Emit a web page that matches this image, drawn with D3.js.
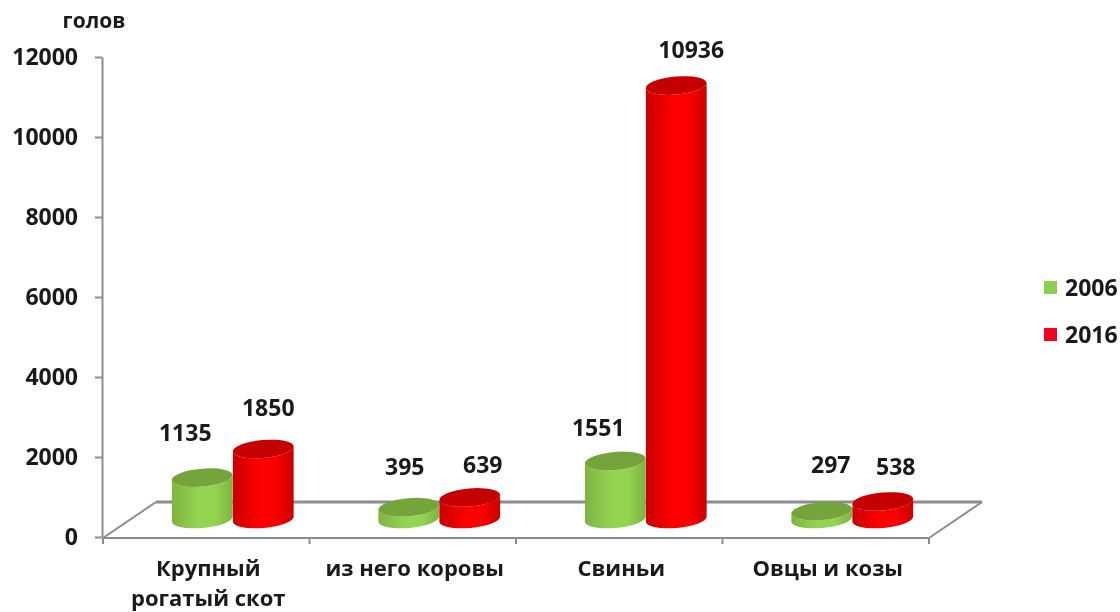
<!DOCTYPE html>
<html>
<head>
    <meta charset="utf-8">
    <title>Поголовье скота</title>
    <script src="https://cdnjs.cloudflare.com/ajax/libs/d3/7.8.5/d3.min.js"></script>
    <style>
        body { margin: 0; background: white; overflow: hidden; }
        svg { display: block; filter: blur(0.3px); }
        text { font-family: "Open Sans", sans-serif; font-weight: 700; font-size: 23px; fill: #1a1a1a; }
        .cat-label { font-size: 22px; }
    </style>
</head>
<body>
    <svg width="1120" height="612"></svg>

    <script>
        const categories = ["Крупный\nрогатый скот", "из него коровы", "Свиньи", "Овцы и козы"];
        const years = ["2006", "2016"];
        const values2006 = [1135, 395, 1551, 297];
        const values2016 = [1850, 639, 10936, 538];
        const yTicks = [0, 2000, 4000, 6000, 8000, 10000, 12000];
        const unitLabel = "голов";

        const svg = d3.select("svg");
        const axisColor = "#8c8c8c";

        const x = d3.scaleBand().domain(categories).range([103, 929]);
        const y = d3.scaleLinear().domain([0, 12000]).range([537, 57]);

        // depth of the fake 3d floor
        const depthX = 53, depthY = 36;
        const rx = 30.5, ry = 9, tilt = -5;
        const dx = rx * Math.cos(tilt * Math.PI / 180);
        const dy = rx * Math.sin(tilt * Math.PI / 180);

        const defs = svg.append("defs");
        function sideGradient(id, edge, mid) {
            const g = defs.append("linearGradient").attr("id", id);
            g.append("stop").attr("offset", "0%").attr("stop-color", edge);
            g.append("stop").attr("offset", "45%").attr("stop-color", mid);
            g.append("stop").attr("offset", "70%").attr("stop-color", mid);
            g.append("stop").attr("offset", "100%").attr("stop-color", edge);
        }
        sideGradient("side2006", "#7fb342", "#93d550");
        sideGradient("side2016", "#c80000", "#ff0000");
        const topColors = { "2006": "#75a33c", "2016": "#c60000" };

        // floor
        const yBase = y(0) + 1;
        const floor = [
            [[x.range()[0], yBase], [x.range()[0] + depthX, yBase - depthY]],
            [[x.range()[0] + depthX, yBase - depthY], [x.range()[1] + depthX, yBase - depthY]],
            [[x.range()[1] + depthX, yBase - depthY], [x.range()[1], yBase]],
            [[x.range()[0], yBase], [x.range()[1], yBase]]
        ];
        svg.append("g").selectAll("line").data(floor).join("line")
            .attr("x1", d => d[0][0]).attr("y1", d => d[0][1])
            .attr("x2", d => d[1][0]).attr("y2", d => d[1][1])
            .attr("stroke", axisColor)
            .attr("stroke-width", (d, i) => i == 1 ? 3 : 2);

        // y axis
        const yAxis = svg.append("g")
            .attr("transform", `translate(${x.range()[0] - 1},0)`)
            .call(d3.axisLeft(y).tickValues(yTicks).tickFormat(d3.format("d")).tickSize(7).tickSizeOuter(0).tickPadding(17));
        yAxis.select(".domain").attr("stroke", axisColor).attr("stroke-width", 2);
        yAxis.selectAll(".tick line").attr("stroke", axisColor).attr("stroke-width", 2);
        yAxis.attr("font-family", null).attr("font-size", null);

        svg.append("text").attr("x", 94).attr("y", 28).attr("text-anchor", "middle")
            .style("font-size", "21px").text(unitLabel);

        // x axis ticks sit on the band edges
        svg.append("g").selectAll("line").data(d3.range(categories.length + 1)).join("line")
            .attr("x1", i => x.range()[0] + i * x.step()).attr("x2", i => x.range()[0] + i * x.step())
            .attr("y1", yBase).attr("y2", yBase + 6)
            .attr("stroke", axisColor).attr("stroke-width", 2);

        const xAxis = svg.append("g")
            .attr("transform", `translate(0,${yBase})`)
            .call(d3.axisBottom(x).tickSize(0).tickFormat(""));
        xAxis.select(".domain").remove();
        xAxis.attr("font-family", null).attr("font-size", null);
        xAxis.selectAll(".tick text").attr("class", "cat-label").each(function (d) {
            const t = d3.select(this).attr("y", null).attr("dy", null);
            d.split("\n").forEach((line, i) => {
                t.append("tspan").attr("x", 2).attr("y", 38 + i * 30).text(line);
            });
        });

        // cylinders
        const labelNudge = [
            [[-17, -45], [5, -41]],
            [[-4, -40], [13, -32]],
            [[-17, -33], [15, -36]],
            [[9, -46], [13, -35]]
        ];

        function drawCylinder(series, year, s) {
            const g = svg.append("g").attr("class", "series-" + year);
            series.forEach((v, i) => {
                const cx = x(categories[i]) + x.bandwidth() / 2 + depthX / 2 + (s == 0 ? -rx : rx);
                const bottom = yBase - depthY / 2 - 1;
                const top = y(v) - 14;
                g.append("path")
                    .attr("d", `M${cx - dx},${top - dy} L${cx - dx},${bottom - dy} ` +
                        `A${rx},${ry} ${tilt} 0 0 ${cx + dx},${bottom + dy} L${cx + dx},${top + dy} ` +
                        `A${rx},${ry} ${tilt} 0 1 ${cx - dx},${top - dy} Z`)
                    .attr("fill", `url(#side${year})`);
                g.append("ellipse")
                    .attr("rx", rx).attr("ry", ry)
                    .attr("transform", `translate(${cx},${top}) rotate(${tilt})`)
                    .attr("fill", topColors[year]);
                svg.append("text")
                    .attr("x", cx + labelNudge[i][s][0]).attr("y", top + labelNudge[i][s][1])
                    .attr("dy", "0.35em").attr("text-anchor", "middle")
                    .text(v);
            });
        }
        drawCylinder(values2006, years[0], 0);
        drawCylinder(values2016, years[1], 1);

        // legend
        const legend = svg.append("g").selectAll("g").data(years).join("g")
            .attr("transform", (d, i) => `translate(1044,${281 + i * 47})`);
        legend.append("rect").attr("width", 13).attr("height", 13)
            .attr("fill", (d, i) => i == 0 ? "#8ccf52" : "#f5001e");
        legend.append("text").attr("x", 21).attr("y", 7).attr("dy", "0.35em").text(d => d);
    </script>
</body>
</html>
